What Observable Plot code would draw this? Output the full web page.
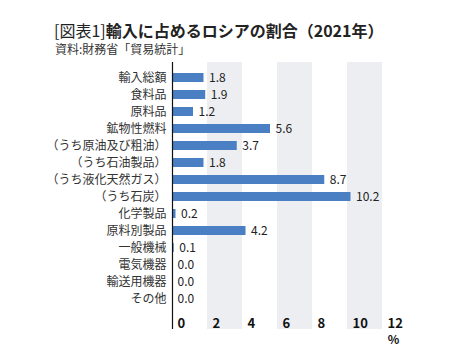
<!DOCTYPE html>
<html><head><meta charset="utf-8">
<script src="https://cdn.jsdelivr.net/npm/d3@7"></script>
<script src="https://cdn.jsdelivr.net/npm/@observablehq/plot@0.6"></script>
<style>
body{margin:0;background:#fff;font-family:"Noto Sans CJK JP","Noto Sans",sans-serif;}
#wrap{position:relative;width:459px;height:363px;overflow:hidden;}
#head{position:relative;height:58px;}
#title{position:absolute;left:54px;top:21px;font-size:16px;line-height:18px;color:#222;white-space:nowrap;}
#title b{font-weight:bold;}
#sub{position:absolute;left:55px;top:41px;font-size:12px;line-height:15px;color:#333;white-space:nowrap;}
svg{display:block;}
</style></head>
<body><div id="wrap">
<div id="head">
<div id="title">[図表1]<b>輸入に占めるロシアの割合（2021年）</b></div>
<div id="sub">資料:財務省「貿易統計」</div>
</div>
<div id="chart"></div>
</div>
<script>
const categories = ["輸入総額","食料品","原料品","鉱物性燃料","（うち原油及び粗油）","（うち石油製品）","（うち液化天然ガス）","（うち石炭）","化学製品","原料別製品","一般機械","電気機器","輸送用機器","その他"];
const values = [1.8,1.9,1.2,5.6,3.7,1.8,8.7,10.2,0.2,4.2,0.1,0.0,0.0,0.0];
const xTicks = [0,2,4,6,8,10,12];
const bandStarts = [2,6,10];
const unitLabel = "%";

const data = categories.map((c,i)=>({cat:c, v:values[i], label:values[i].toFixed(1)}));
const bands = bandStarts.map(s=>({x1:s, x2:s+2}));

const chart = Plot.plot({
  width:459, height:305,
  marginLeft:172, marginRight:77, marginTop:4, marginBottom:34,
  style:{fontFamily:'"Noto Sans CJK JP","Noto Sans",sans-serif', background:"#fff"},
  x:{domain:[0,12], axis:null},
  y:{domain:categories, range:[2.9,256.8], padding:0.48, axis:null},
  marks:[
    Plot.rect(bands,{x1:"x1", x2:"x2", fill:"#eceef1"}),
    Plot.barX(data,{x:"v", y:"cat", fill:"#4a7fc4"}),
    Plot.text(data,{x:"v", y:"cat", text:"label", textAnchor:"start", dx:5, fontSize:12, fill:"#222"}),
    Plot.text(data,{x:0, y:"cat", text:"cat", textAnchor:"end", dx:-6, fontSize:12, fill:"#333"}),
    Plot.text(xTicks,{x:d=>d, text:d=>String(d), frameAnchor:"bottom", textAnchor:"start", lineAnchor:"bottom", dx:5, dy:-2, fontSize:13, fontWeight:"bold", fill:"#111"}),
    Plot.text([unitLabel],{x:12, text:d=>d, frameAnchor:"bottom", textAnchor:"middle", lineAnchor:"top", dx:11, dy:6, fontSize:12, fontWeight:"bold", fill:"#111"}),
    Plot.ruleX([0],{stroke:"#111", strokeWidth:1.2})
  ]
});
document.getElementById("chart").appendChild(chart);
</script>
</body></html>
